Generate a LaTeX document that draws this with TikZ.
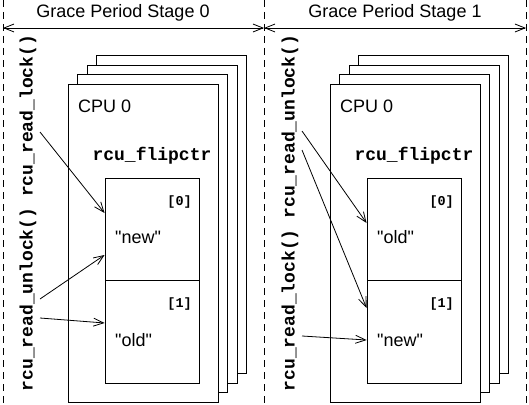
\documentclass[tikz,border=0pt]{standalone}
\usepackage{fontspec}
\setmainfont{Liberation Sans}
\setmonofont{Liberation Mono}
\usepackage{tikz}
\usetikzlibrary{arrows.meta}

\tikzset{
  lbl/.style={font=\fontsize{18}{21}\selectfont, inner sep=0pt},
  code/.style={font=\fontsize{18}{21}\selectfont\ttfamily\bfseries, inner sep=0pt},
  idx/.style={font=\fontsize{13.5}{16}\selectfont\ttfamily\bfseries, inner sep=0pt},
  cpubox/.style={draw, fill=white, line width=0.9pt, inner sep=0pt,
    minimum width=150pt, minimum height=318pt},
  cell/.style={draw, fill=white, line width=0.9pt, inner sep=0pt,
    minimum width=94pt, minimum height=102.5pt},
  ptr/.style={-{Straight Barb[length=10pt,width=8pt]}, line width=0.8pt},
  span/.style={{Straight Barb[length=10pt,width=8pt]}-{Straight Barb[length=10pt,width=8pt]}, line width=0.8pt},
  divider/.style={dash pattern=on 7pt off 5pt, line width=0.8pt}
}
\newcommand{\qq}[1]{\textquotedbl #1\textquotedbl}

\begin{document}
\begin{tikzpicture}[x=1pt, y=-1pt]
\useasboundingbox (0,0) rectangle (529,404);
%%% Draws dividers and stage headings
\coordinate (divL) at (3,0);
\coordinate (divM) at (264,0);
\coordinate (divR) at (526,0);
\draw[divider] (divL) -- (divL |- 0,404);
\draw[divider] (divM) -- (divM |- 0,404);
\draw[divider] (divR) -- (divR |- 0,404);
\draw[span] (divL |- 0,28) -- (divM |- 0,28);
\draw[span] (divM |- 0,28) -- (divR |- 0,28);
\node[lbl, anchor=base] (stage0) at (123,18) {Grace Period Stage 0};
\node[lbl, anchor=base] (stage1) at (395,18) {Grace Period Stage 1};
%%% Draws stage 0
% draws CPU boxes, back to front
\node[cpubox] (cpuLd) at (171.5,214.5) {};
\node[cpubox] (cpuLc) at (162,224) {};
\node[cpubox] (cpuLb) at (152.5,233.5) {};
\node[cpubox] (cpuLa) at (143,243) {};
\node[lbl, anchor=base west] (cpuLname) at (78,112) {CPU 0};
\node[code, anchor=base] (flipL) at (152,160) {rcu\_flipctr};
% draws counter cells
\node[cell] (cellL0) at (152,229.5) {};
\node[cell] (cellL1) at (152,332) {};
\node[idx, anchor=base east] (idxL0) at (192,205) {[0]};
\node[idx, anchor=base east] (idxL1) at (192,307) {[1]};
\node[lbl, anchor=base west] (valL0) at (115,243) {\qq{new}};
\node[lbl, anchor=base west] (valL1) at (115,346) {\qq{old}};
% draws readers
\node[code, rotate=90] (readL) at (28,213) {rcu\_read\_unlock() rcu\_read\_lock()};
\coordinate (lockL) at (40,132);
\coordinate (unlockLa) at (40,299);
\coordinate (unlockLb) at (40,318);
\draw[ptr] (lockL) -- (cellL0.west |- 0,213);
\draw[ptr] (unlockLa) -- (cellL0.west |- 0,255);
\draw[ptr] (unlockLb) -- (cellL1.west |- 0,323);
%%% Draws stage 1
% draws CPU boxes, back to front
\node[cpubox] (cpuRd) at (433.5,214.5) {};
\node[cpubox] (cpuRc) at (424,224) {};
\node[cpubox] (cpuRb) at (414.5,233.5) {};
\node[cpubox] (cpuRa) at (405,243) {};
\node[lbl, anchor=base west] (cpuRname) at (340,112) {CPU 0};
\node[code, anchor=base] (flipR) at (414,160) {rcu\_flipctr};
% draws counter cells
\node[cell] (cellR0) at (414,229.5) {};
\node[cell] (cellR1) at (414,332) {};
\node[idx, anchor=base east] (idxR0) at (454,205) {[0]};
\node[idx, anchor=base east] (idxR1) at (454,307) {[1]};
\node[lbl, anchor=base west] (valR0) at (377,243) {\qq{old}};
\node[lbl, anchor=base west] (valR1) at (377,346) {\qq{new}};
% draws readers
\node[code, rotate=90] (readR) at (290,213) {rcu\_read\_lock() rcu\_read\_unlock()};
\coordinate (unlockRa) at (302,131);
\coordinate (unlockRb) at (302,150);
\coordinate (lockR) at (302,336);
\draw[ptr] (unlockRa) -- (cellR0.west |- 0,223);
\draw[ptr] (unlockRb) -- (cellR1.west |- 0,308);
\draw[ptr] (lockR) -- (cellR1.west |- 0,340);
\end{tikzpicture}
\end{document}
